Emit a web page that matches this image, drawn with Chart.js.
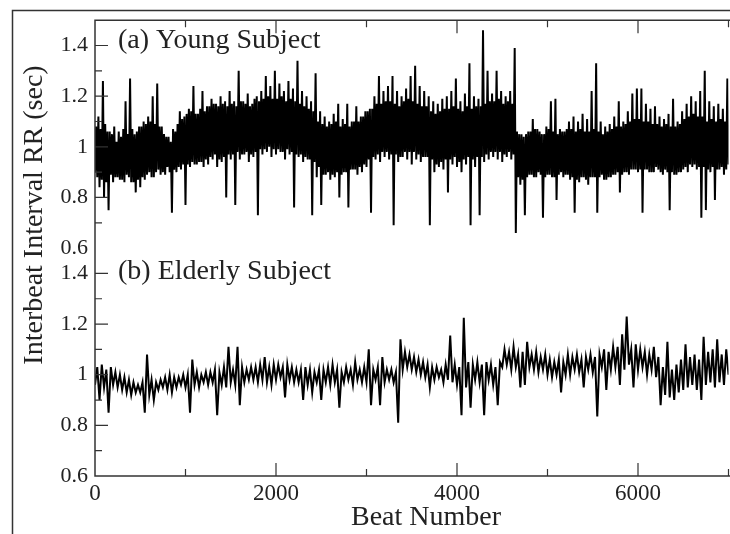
<!DOCTYPE html>
<html>
<head>
<meta charset="utf-8">
<script src="https://cdn.jsdelivr.net/npm/chart.js@4.4.1/dist/chart.umd.min.js"></script>
<style>
  html, body { margin: 0; padding: 0; background: #fff; }
</style>
</head>
<body>
<canvas id="rrChart" width="730" height="534"></canvas>
<script>
// samples of the traces (upper / lower swings), one every youngStep / elderlyStep beats
const youngStep = 12.5;
const elderlyStep = 25;

const young = [
  0.90, 1.08, 0.88, 1.12, 0.84, 1.07, 0.87, 1.26, 0.80, 1.09, 0.86, 1.06, 0.75, 1.06, 0.89, 1.05, 0.86, 1.08, 0.88, 1.02,
  0.88, 1.06, 0.87, 1.04, 0.87, 1.07, 0.86, 1.18, 0.89, 1.05, 0.88, 1.27, 0.86, 1.07, 0.86, 1.05, 0.82, 1.06, 0.87, 1.08,
  0.84, 1.08, 0.88, 1.10, 0.87, 1.09, 0.89, 1.12, 0.90, 1.10, 0.88, 1.20, 0.88, 1.09, 0.90, 1.25, 0.91, 1.08, 0.89, 1.08,
  0.90, 1.05, 0.89, 1.04, 0.92, 1.04, 0.90, 1.02, 0.74, 1.07, 0.91, 1.06, 0.90, 1.09, 0.92, 1.14, 0.91, 1.11, 0.93, 1.12,
  0.77, 1.13, 0.93, 1.15, 0.92, 1.14, 0.94, 1.24, 0.93, 1.13, 0.93, 1.13, 0.94, 1.15, 0.94, 1.22, 0.92, 1.14, 0.95, 1.16,
  0.93, 1.16, 0.96, 1.19, 0.95, 1.17, 0.97, 1.17, 0.92, 1.16, 0.95, 1.20, 0.94, 1.17, 0.96, 1.18, 0.80, 1.16, 0.97, 1.22,
  0.95, 1.17, 0.97, 1.18, 0.77, 1.16, 0.98, 1.30, 0.95, 1.18, 0.97, 1.18, 0.97, 1.17, 0.98, 1.21, 0.94, 1.16, 0.97, 1.17,
  0.96, 1.19, 0.98, 1.20, 0.73, 1.18, 0.99, 1.22, 0.97, 1.19, 0.99, 1.28, 0.98, 1.20, 1.00, 1.24, 0.96, 1.19, 0.99, 1.30,
  0.97, 1.19, 0.99, 1.25, 0.98, 1.20, 0.98, 1.22, 0.95, 1.18, 0.99, 1.26, 0.97, 1.19, 0.98, 1.23, 0.76, 1.18, 0.97, 1.34,
  0.96, 1.17, 0.97, 1.22, 0.94, 1.16, 0.96, 1.20, 0.95, 1.15, 0.95, 1.18, 0.73, 1.14, 0.94, 1.29, 0.88, 1.10, 0.92, 1.14,
  0.77, 1.09, 0.89, 1.12, 0.89, 1.08, 0.90, 1.10, 0.87, 1.09, 0.89, 1.13, 0.88, 1.10, 0.90, 1.17, 0.80, 1.08, 0.89, 1.11,
  0.90, 1.09, 0.90, 1.17, 0.76, 1.08, 0.91, 1.10, 0.91, 1.10, 0.91, 1.16, 0.89, 1.10, 0.92, 1.12, 0.90, 1.12, 0.93, 1.14,
  0.92, 1.14, 0.95, 1.15, 0.74, 1.15, 0.96, 1.20, 0.95, 1.17, 0.97, 1.28, 0.94, 1.17, 0.98, 1.22, 0.96, 1.18, 0.98, 1.24,
  0.95, 1.18, 0.97, 1.28, 0.69, 1.17, 0.97, 1.22, 0.94, 1.16, 0.96, 1.20, 0.96, 1.18, 0.98, 1.23, 0.95, 1.19, 0.98, 1.28,
  0.93, 1.18, 0.98, 1.32, 0.95, 1.17, 0.97, 1.24, 0.94, 1.16, 0.96, 1.22, 0.96, 1.16, 0.96, 1.20, 0.69, 1.14, 0.95, 1.18,
  0.90, 1.13, 0.93, 1.17, 0.92, 1.14, 0.94, 1.19, 0.91, 1.15, 0.95, 1.20, 0.82, 1.15, 0.95, 1.22, 0.93, 1.16, 0.96, 1.27,
  0.92, 1.15, 0.94, 1.18, 0.90, 1.14, 0.95, 1.21, 0.93, 1.16, 0.96, 1.33, 0.69, 1.15, 0.95, 1.20, 0.92, 1.16, 0.96, 1.19,
  0.73, 1.16, 0.96, 1.46, 0.94, 1.17, 0.97, 1.30, 0.95, 1.18, 0.98, 1.21, 0.96, 1.18, 0.98, 1.30, 0.95, 1.19, 0.98, 1.22,
  0.94, 1.17, 0.97, 1.20, 0.96, 1.18, 0.98, 1.22, 0.95, 1.17, 0.97, 1.39, 0.66, 1.06, 0.88, 1.05, 0.85, 1.05, 0.87, 1.04,
  0.73, 1.05, 0.88, 1.06, 0.89, 1.06, 0.89, 1.11, 0.88, 1.07, 0.88, 1.07, 0.90, 1.06, 0.89, 1.05, 0.72, 1.05, 0.88, 1.08,
  0.89, 1.07, 0.89, 1.18, 0.88, 1.06, 0.88, 1.19, 0.79, 1.05, 0.89, 1.07, 0.90, 1.06, 0.88, 1.06, 0.89, 1.07, 0.89, 1.10,
  0.87, 1.07, 0.88, 1.12, 0.74, 1.06, 0.87, 1.10, 0.86, 1.07, 0.88, 1.13, 0.88, 1.06, 0.87, 1.11, 0.85, 1.06, 0.88, 1.22,
  0.88, 1.07, 0.88, 1.33, 0.74, 1.06, 0.88, 1.10, 0.89, 1.05, 0.87, 1.08, 0.87, 1.06, 0.88, 1.09, 0.88, 1.07, 0.89, 1.12,
  0.89, 1.08, 0.90, 1.18, 0.82, 1.08, 0.89, 1.10, 0.90, 1.09, 0.90, 1.14, 0.89, 1.10, 0.91, 1.21, 0.91, 1.11, 0.91, 1.23,
  0.90, 1.11, 0.91, 1.23, 0.74, 1.10, 0.91, 1.17, 0.91, 1.10, 0.90, 1.15, 0.90, 1.09, 0.90, 1.16, 0.92, 1.09, 0.91, 1.12,
  0.90, 1.08, 0.89, 1.11, 0.91, 1.09, 0.90, 1.13, 0.75, 1.08, 0.90, 1.19, 0.89, 1.08, 0.89, 1.10, 0.90, 1.09, 0.90, 1.14,
  0.91, 1.11, 0.92, 1.17, 0.90, 1.12, 0.93, 1.20, 0.92, 1.13, 0.93, 1.18, 0.91, 1.12, 0.92, 1.22, 0.72, 1.12, 0.92, 1.30,
  0.75, 1.10, 0.91, 1.18, 0.90, 1.11, 0.92, 1.16, 0.79, 1.10, 0.91, 1.17, 0.91, 1.11, 0.92, 1.15, 0.89, 1.10, 0.91, 1.27,
  0.93
];

const elderly = [
  0.96, 1.03, 0.90, 1.04, 0.95, 1.02, 0.85, 1.03, 0.96, 1.01,
  0.95, 1.00, 0.94, 0.99, 0.93, 0.98, 0.92, 0.97, 0.93, 0.96,
  0.93, 0.97, 0.85, 1.08, 0.92, 0.98, 0.90, 0.97, 0.94, 0.98,
  0.95, 0.99, 0.94, 1.00, 0.93, 0.99, 0.95, 0.99, 0.96, 1.00,
  0.95, 1.00, 0.85, 1.06, 0.96, 1.01, 0.95, 1.00, 0.97, 1.01,
  0.96, 1.01, 0.97, 1.02, 0.84, 1.01, 0.96, 1.03, 0.95, 1.11,
  0.97, 1.02, 0.96, 1.11, 0.88, 1.03, 0.97, 1.02, 0.98, 1.03,
  0.98, 1.03, 0.97, 1.04, 0.98, 1.07, 0.97, 1.03, 0.96, 1.04,
  0.98, 1.04, 0.99, 1.03, 0.91, 1.04, 0.98, 1.03, 0.97, 1.02,
  0.97, 1.02, 0.90, 1.03, 0.96, 1.02, 0.93, 1.01, 0.97, 1.02,
  0.90, 1.02, 0.97, 1.03, 0.96, 1.04, 0.97, 1.02, 0.87, 1.01,
  0.97, 1.03, 0.98, 1.02, 0.96, 1.05, 0.98, 1.02, 0.97, 1.03,
  0.97, 1.10, 0.88, 1.02, 0.98, 1.03, 0.88, 1.07, 0.97, 1.02,
  0.98, 1.02, 0.97, 1.01, 0.81, 1.14, 1.02, 1.09, 1.03, 1.08,
  1.02, 1.07, 1.01, 1.06, 1.00, 1.05, 0.99, 1.04, 0.95, 1.03,
  0.98, 1.03, 0.99, 1.02, 0.97, 1.04, 0.98, 1.155, 0.97, 1.04,
  0.96, 1.03, 0.84, 1.225, 0.95, 1.05, 0.87, 1.04, 0.98, 1.05,
  0.97, 1.04, 0.84, 1.05, 0.98, 1.04, 0.96, 1.03, 0.88, 1.05,
  1.03, 1.10, 1.04, 1.09, 1.02, 1.11, 1.03, 1.08, 0.95, 1.09,
  0.96, 1.13, 1.03, 1.08, 1.02, 1.09, 1.01, 1.07, 1.02, 1.08,
  1.00, 1.06, 0.99, 1.05, 1.00, 1.06, 0.93, 1.05, 1.00, 1.08,
  1.00, 1.07, 1.02, 1.08, 1.01, 1.06, 0.95, 1.07, 1.02, 1.08,
  1.01, 1.07, 0.835, 1.08, 1.03, 1.10, 0.94, 1.09, 1.02, 1.11,
  1.03, 1.11, 0.96, 1.16, 1.02, 1.23, 1.04, 1.10, 0.95, 1.12,
  1.02, 1.10, 1.03, 1.09, 1.00, 1.08, 1.02, 1.11, 0.99, 1.07,
  0.88, 1.03, 0.92, 1.13, 0.91, 1.02, 0.90, 1.04, 0.93, 1.06,
  0.94, 1.12, 0.95, 1.07, 0.96, 1.08, 0.94, 1.06, 0.90, 1.15,
  0.96, 1.09, 0.97, 1.10, 0.95, 1.14, 0.97, 1.08, 0.96, 1.10,
  1.00
];

const xTickLabels = [0, 2000, 4000, 6000];
const yTickLabels = [0.6, 0.8, 1, 1.2, 1.4];
const panelLabels = ['(a) Young Subject', '(b) Elderly Subject'];
const xTitle = 'Beat Number';
const yTitle = 'Interbeat Interval RR (sec)';

const serif = '"Liberation Serif", "DejaVu Serif", serif';
const ink = '#222';

const toPoints = (arr, step) => arr.map((v, i) => ({ x: i * step, y: v }));

const yAxis = () => ({
  type: 'linear',
  position: 'left',
  stack: 'rr',
  stackWeight: 1,
  min: 0.6,
  max: 1.5,
  grid: { display: false, drawTicks: false },
  border: { display: false },
  afterBuildTicks: s => { s.ticks = yTickLabels.map(v => ({ value: v })); },
  ticks: {
    autoSkip: false,
    padding: 7,
    color: ink,
    font: { family: serif, size: 22 },
    callback: v => String(v)
  },
  afterFit: s => { s.width = 95; }
});

// frame, inward tick marks and the texts
const frame = {
  id: 'frame',
  afterDraw(chart) {
    const { ctx, chartArea: a, scales } = chart;
    const xs = scales.x;
    ctx.save();
    ctx.strokeStyle = '#333';
    ctx.lineWidth = 1.5;
    ctx.beginPath();
    ctx.moveTo(12.5, 534); ctx.lineTo(12.5, 10.5); ctx.lineTo(730, 10.5);
    ctx.stroke();

    ctx.beginPath();
    ctx.moveTo(a.right + 3, a.top); ctx.lineTo(a.left, a.top);
    ctx.lineTo(a.left, a.bottom); ctx.lineTo(a.right + 3, a.bottom);
    ctx.stroke();

    ctx.lineWidth = 1.2;
    ctx.beginPath();
    for (let b = 1000; b <= 7000; b += 1000) {
      const px = xs.getPixelForValue(b);
      const len = b % 2000 === 0 ? 13 : 7;
      ctx.moveTo(px, a.bottom); ctx.lineTo(px, a.bottom - len);
      ctx.moveTo(px, a.top); ctx.lineTo(px, a.top + len);
    }
    [scales.yTop, scales.yBot].forEach(s => {
      for (let k = 7; k <= 14; k++) {
        const py = s.getPixelForValue(k / 10);
        const len = k % 2 === 0 ? 13 : 7;
        ctx.moveTo(a.left, py); ctx.lineTo(a.left + len, py);
      }
    });
    ctx.stroke();

    ctx.fillStyle = ink;
    ctx.font = '28px ' + serif;
    ctx.textAlign = 'left';
    ctx.textBaseline = 'alphabetic';
    ctx.fillText(panelLabels[0], 118, 48);
    ctx.fillText(panelLabels[1], 118, 279);

    ctx.textAlign = 'center';
    ctx.fillText(xTitle, 426, 525);

    ctx.translate(42, 215);
    ctx.rotate(-Math.PI / 2);
    ctx.fillText(yTitle, 0, 0);
    ctx.restore();
  }
};

new Chart(document.getElementById('rrChart'), {
  type: 'line',
  data: {
    datasets: [
      { data: toPoints(young, youngStep), yAxisID: 'yTop', borderWidth: 2 },
      { data: toPoints(elderly, elderlyStep), yAxisID: 'yBot', borderWidth: 2 }
    ]
  },
  options: {
    responsive: false,
    animation: false,
    devicePixelRatio: 1,
    layout: { padding: { left: 0, right: 1.5, top: 12.5, bottom: 0 } },
    elements: {
      line: { borderColor: '#000', tension: 0, borderJoinStyle: 'miter' },
      point: { radius: 0 }
    },
    plugins: { legend: { display: false }, tooltip: { enabled: false } },
    scales: {
      x: {
        type: 'linear',
        min: 0,
        max: 7000,
        grid: { display: false, drawTicks: false },
        border: { display: false },
        afterBuildTicks: s => { s.ticks = xTickLabels.map(v => ({ value: v })); },
        ticks: {
          autoSkip: false,
          maxRotation: 0,
          padding: 4,
          color: ink,
          font: { family: serif, size: 23 },
          callback: v => String(v)
        },
        afterFit: s => { s.height = 58; }
      },
      yBot: yAxis(),
      yTop: yAxis()
    }
  },
  plugins: [frame]
});
</script>
</body>
</html>
